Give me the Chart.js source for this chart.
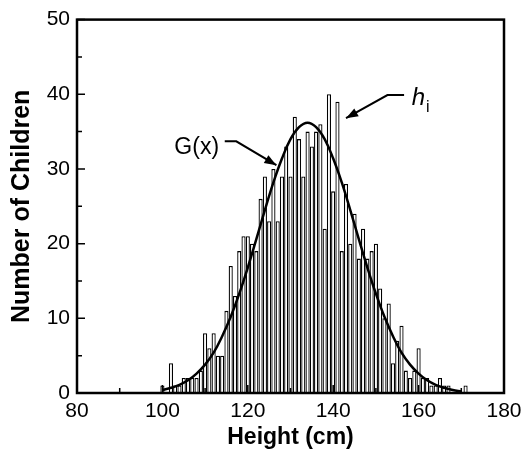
<!DOCTYPE html>
<html>
<head>
<meta charset="utf-8">
<script src="https://cdn.jsdelivr.net/npm/chart.js@4/dist/chart.umd.min.js"></script>
<style>
  html, body { margin: 0; padding: 0; background: #fff; }
  #c { display: block; }
</style>
</head>
<body>
<canvas id="c" width="527" height="454"></canvas>
<script>
// Height bins (cm, 1 cm wide) and number of children in each bin
const binStarts = [100,101,102,103,104,105,106,107,108,109,110,111,112,113,114,115,116,117,118,119,
                   120,121,122,123,124,125,126,127,128,129,130,131,132,133,134,135,136,137,138,139,
                   140,141,142,143,144,145,146,147,148,149,150,151,152,153,154,155,156,157,158,159,
                   160,161,162,163,164,165,166,167,168,169,170,171];
const childCounts = [1,0,4,1,1,2,2,2,2,3,8,6,8,5,5,11,17,13,19,21,
                     21,20,19,26,29,23,30,23,29,33,29,37,34,29,35,33,35,36,22,40,
                     27,39,19,28,20,24,18,22,18,19,20,14,10,12,4,7,9,3,2,3,
                     6,2,2,1,1,2,1,1,0,0,0,1];

// Fitted Gaussian G(x), sampled every 2 cm
const curveX = [100,102,104,106,108,110,112,114,116,118,120,122,124,126,128,130,132,134,
                136,138,140,142,144,146,148,150,152,154,156,158,160,162,164,166,168,170];
const curveG = [0.4,0.7,1.1,1.7,2.6,3.8,5.4,7.6,10.2,13.3,16.8,20.6,24.5,28.2,31.4,34.0,35.6,36.2,
                35.6,34.0,31.4,28.2,24.5,20.6,16.8,13.3,10.2,7.6,5.4,3.8,2.6,1.7,1.1,0.7,0.4,0.2];

// Axis ticks
const xTicks = [80, 100, 120, 140, 160, 180];
const yTicks = [0, 10, 20, 30, 40, 50];
const xMinorTicks = [90, 110, 130, 150, 170];
const yMinorTicks = [5, 15, 25, 35, 45];

const FONT = '"Liberation Sans", Arial, Helvetica, sans-serif';

// Callout labels with leader lines (data coordinates)
const callouts = [
  { kind: 'G', at: [102.8, 32.9], path: [[114.6, 33.7], [117.3, 33.7], [126.7, 30.5]] },
  { kind: 'h', at: [158.4, 38.6], path: [[156.6, 39.9], [152.7, 39.9], [143.0, 36.8]] }
];

const framePlugin = {
  id: 'frameAndMarks',
  afterDatasetsDraw(chart) {
    const { ctx, chartArea: a, scales: { x, y } } = chart;
    ctx.save();
    ctx.strokeStyle = '#000';
    ctx.lineCap = 'butt';

    // inward tick marks
    ctx.lineWidth = 1.5;
    ctx.beginPath();
    xTicks.forEach(v => { const px = x.getPixelForValue(v); ctx.moveTo(px, a.bottom); ctx.lineTo(px, a.bottom - 8); });
    xMinorTicks.forEach(v => { const px = x.getPixelForValue(v); ctx.moveTo(px, a.bottom); ctx.lineTo(px, a.bottom - 5); });
    yTicks.forEach(v => { const py = y.getPixelForValue(v); ctx.moveTo(a.left, py); ctx.lineTo(a.left + 8, py); });
    yMinorTicks.forEach(v => { const py = y.getPixelForValue(v); ctx.moveTo(a.left, py); ctx.lineTo(a.left + 5, py); });
    ctx.stroke();

    // plot frame
    ctx.lineWidth = 2.5;
    ctx.strokeRect(a.left, a.top, a.right - a.left, a.bottom - a.top);

    // callouts
    callouts.forEach(c => {
      const pts = c.path.map(p => [x.getPixelForValue(p[0]), y.getPixelForValue(p[1])]);
      ctx.lineWidth = 2;
      ctx.beginPath();
      ctx.moveTo(pts[0][0], pts[0][1]);
      for (let i = 1; i < pts.length; i++) ctx.lineTo(pts[i][0], pts[i][1]);
      ctx.stroke();
      // arrow head
      const [ex, ey] = pts[pts.length - 1];
      const [sx, sy] = pts[pts.length - 2];
      const ang = Math.atan2(ey - sy, ex - sx);
      const L = 12, W = 4.5;
      ctx.fillStyle = '#000';
      ctx.beginPath();
      ctx.moveTo(ex, ey);
      ctx.lineTo(ex - L * Math.cos(ang) + W * Math.sin(ang), ey - L * Math.sin(ang) - W * Math.cos(ang));
      ctx.lineTo(ex - L * Math.cos(ang) - W * Math.sin(ang), ey - L * Math.sin(ang) + W * Math.cos(ang));
      ctx.closePath();
      ctx.fill();

      const tx = x.getPixelForValue(c.at[0]);
      const ty = y.getPixelForValue(c.at[1]);
      ctx.fillStyle = '#000';
      ctx.textAlign = 'left';
      if (c.kind === 'G') {
        ctx.font = '23px ' + FONT;
        ctx.textBaseline = 'middle';
        ctx.fillText('G(x)', tx, ty);
      } else {
        ctx.textBaseline = 'alphabetic';
        ctx.font = 'italic 24px ' + FONT;
        ctx.fillText('h', tx, ty);
        const w = ctx.measureText('h').width;
        ctx.font = '16px ' + FONT;
        ctx.fillText('i', tx + w + 1, ty + 7);
      }
    });
    ctx.restore();
  }
};

new Chart(document.getElementById('c'), {
  type: 'bar',
  data: {
    datasets: [
      {
        type: 'line',
        label: 'G(x)',
        data: curveX.map((v, i) => ({ x: v, y: curveG[i] })),
        borderColor: '#000',
        borderWidth: 2.5,
        pointRadius: 0,
        tension: 0.4,
        fill: false,
        order: 1
      },
      {
        type: 'bar',
        label: 'h_i',
        data: binStarts.map((v, i) => ({ x: v, y: childCounts[i] })),
        backgroundColor: '#fff',
        borderColor: '#000',
        borderWidth: 1.3,
        barPercentage: 0.97,
        categoryPercentage: 1.0,
        order: 2
      }
    ]
  },
  options: {
    responsive: false,
    devicePixelRatio: 1,
    animation: false,
    layout: { padding: { left: 0, right: 23, top: 17, bottom: 0 } },
    plugins: { legend: { display: false }, tooltip: { enabled: false } },
    scales: {
      x: {
        type: 'linear',
        min: 80, max: 180,
        offset: false,
        grid: { display: false },
        border: { display: false },
        afterBuildTicks: s => { s.ticks = xTicks.map(v => ({ value: v })); },
        afterFit: s => { s.height = 61; },
        ticks: { color: '#000', padding: 0, maxRotation: 0, font: { family: FONT, size: 21, lineHeight: 1 } },
        title: { display: true, text: 'Height (cm)', color: '#000', padding: { top: 0, bottom: 3 },
                 font: { family: FONT, size: 23, weight: 'bold' } }
      },
      y: {
        min: 0, max: 50,
        grid: { display: false, drawTicks: false },
        border: { display: false },
        afterBuildTicks: s => { s.ticks = yTicks.map(v => ({ value: v })); },
        afterFit: s => { s.width = 77; },
        ticks: { color: '#000', padding: 7, font: { family: FONT, size: 21 } },
        title: { display: true, text: 'Number of Children', color: '#000', padding: { top: 7, bottom: 0 },
                 font: { family: FONT, size: 25, weight: 'bold' } }
      }
    }
  },
  plugins: [framePlugin]
});
</script>
</body>
</html>
